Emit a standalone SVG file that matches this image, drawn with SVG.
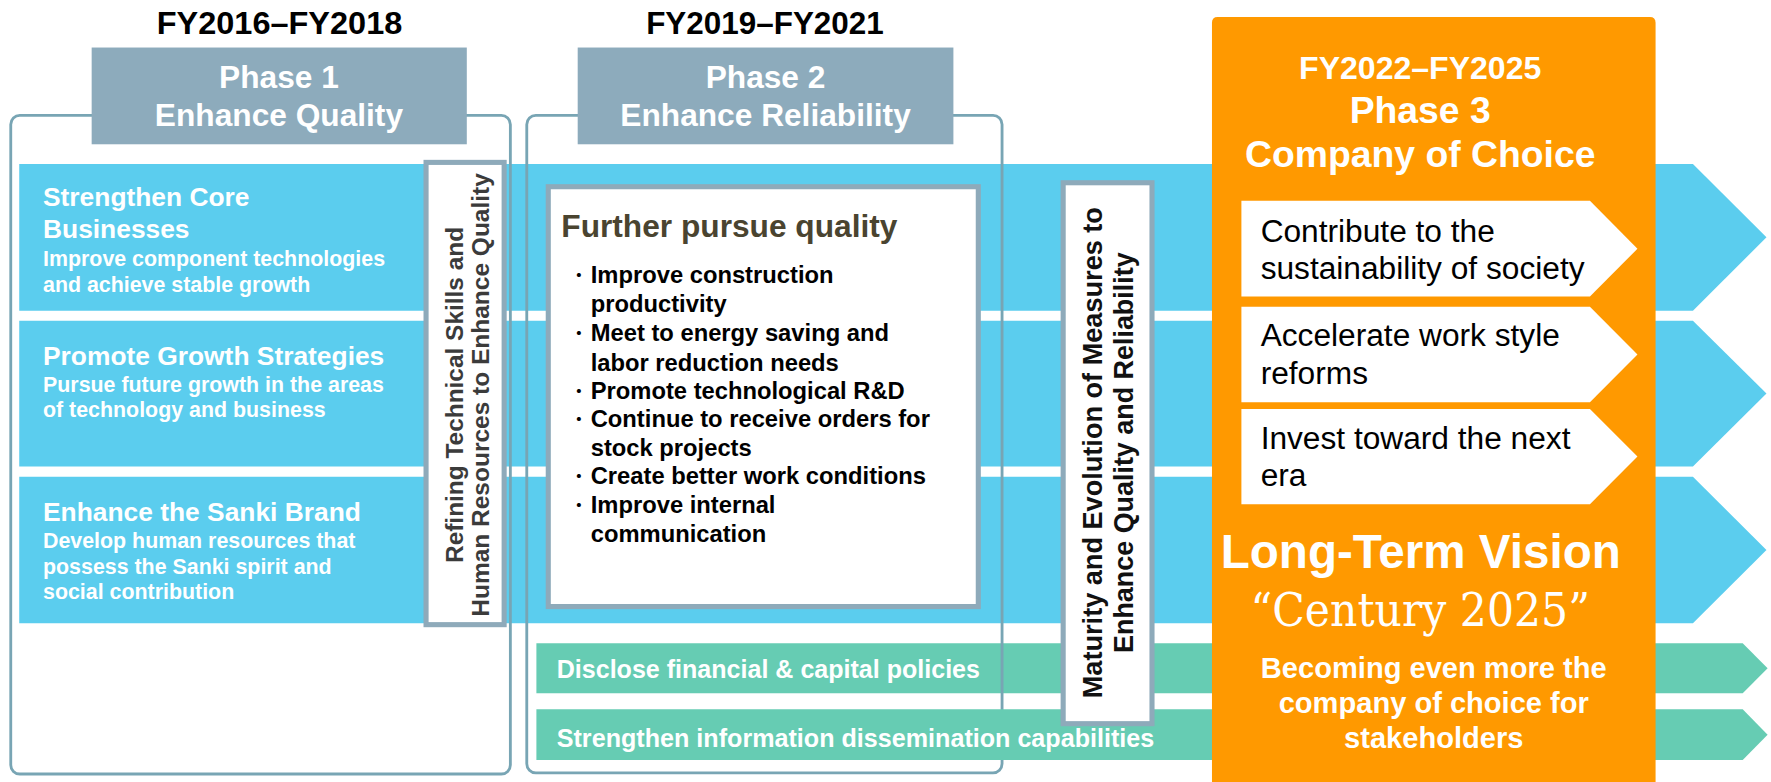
<svg xmlns="http://www.w3.org/2000/svg" width="1771" height="782" viewBox="0 0 1771 782">
<defs>
<style>
text{font-family:'Liberation Sans',Arial,'Noto Sans CJK JP',sans-serif}
.b{font-weight:bold}
.w{fill:#fff}
.k{fill:#000}
.m{text-anchor:middle}
.band{fill:#5BCDEE}
.green{fill:#66CCB3}
.outline{fill:none;stroke:#78A5B4;stroke-width:2.5}
.hdr{fill:#8DABBC}
.frame{fill:#fff;stroke:#8EAABA;stroke-width:4.5}
.chev{fill:#fff}
.ttl{font-size:28px}
.hd{font-size:23.3px}
.sub{font-size:18.9px}
.bl{font-size:21px;fill:#000}
.dot{font-weight:normal;font-size:17px;font-family:'Noto Sans CJK JP',sans-serif}
.vt{font-size:21.5px;fill:#3B3B3B}
.mt{font-size:24px;fill:#111}
.gt{font-size:22px}
.ph3{font-size:33px}
.ct{font-size:28px;fill:#000}
.bc{font-size:25.7px}
</style>
</defs>
<rect width="1771" height="782" fill="#fff"/>
<g transform="scale(1.13163)">
  <g id="bands">
    <path class="band" d="M17,145 H1496 L1561,209.75 L1496,274.5 H17 Z"/>
    <path class="band" d="M17,283.4 H1496 L1561,347.8 L1496,412.2 H17 Z"/>
    <path class="band" d="M17,421.3 H1496 L1561,486 L1496,550.8 H17 Z"/>
    <path class="green" d="M474,568.5 H1540 L1562,590.6 L1540,612.7 H474 Z"/>
  </g>
  <g id="phase-outlines">
    <rect class="outline" x="9.5" y="102" width="441.5" height="582" rx="8"/>
    <rect class="outline" x="465.5" y="102" width="420" height="581" rx="8"/>
  </g>
  <g id="band-green-2">
    <path class="green" d="M474,626.8 H1540 L1562,649.2 L1540,671.6 H474 Z"/>
  </g>
  <g id="titles">
    <text class="b k ttl m" x="247" y="30" textLength="217" lengthAdjust="spacingAndGlyphs">FY2016–FY2018</text>
    <text class="b k ttl m" x="676" y="30" textLength="210" lengthAdjust="spacingAndGlyphs">FY2019–FY2021</text>
  </g>
  <g id="phase1-header">
    <rect class="hdr" x="81" y="42" width="331.5" height="85.5"/>
    <text class="b w ttl m" x="246.5" y="77.5">Phase 1</text>
    <text class="b w ttl m" x="246.5" y="111">Enhance Quality</text>
  </g>
  <g id="phase2-header">
    <rect class="hdr" x="510.5" y="42" width="332" height="85.5"/>
    <text class="b w ttl m" x="676.5" y="77.5">Phase 2</text>
    <text class="b w ttl m" x="676.5" y="111">Enhance Reliability</text>
  </g>
  <g id="core-businesses">
    <text class="b w hd" x="38" y="182">Strengthen Core</text>
    <text class="b w hd" x="38" y="210.6">Businesses</text>
    <text class="b w sub" x="38" y="234.8">Improve component technologies</text>
    <text class="b w sub" x="38" y="257.8">and achieve stable growth</text>
  </g>
  <g id="growth-strategies">
    <text class="b w hd" x="38" y="322.5">Promote Growth Strategies</text>
    <text class="b w sub" x="38" y="346.1">Pursue future growth in the areas</text>
    <text class="b w sub" x="38" y="368.8">of technology and business</text>
  </g>
  <g id="sanki-brand">
    <text class="b w hd" x="38" y="460.1">Enhance the Sanki Brand</text>
    <text class="b w sub" x="38" y="484.6">Develop human resources that</text>
    <text class="b w sub" x="38" y="507.2">possess the Sanki spirit and</text>
    <text class="b w sub" x="38" y="529.3">social contribution</text>
  </g>
  <g id="refining">
    <rect class="frame" x="376.5" y="143.5" width="69" height="408.5"/>
    <text class="b vt m" transform="translate(409,349) rotate(-90)" textLength="297" lengthAdjust="spacingAndGlyphs">Refining Technical Skills and</text>
    <text class="b vt m" transform="translate(432,349) rotate(-90)" textLength="392" lengthAdjust="spacingAndGlyphs">Human Resources to Enhance Quality</text>
  </g>
  <g id="further-pursue-quality">
    <rect class="frame" x="484.5" y="165" width="380" height="371"/>
    <text class="b" x="496" y="209.5" font-size="28" fill="#4A4430">Further pursue quality</text>
    <text class="b bl" y="250.4"><tspan class="dot" x="503">・</tspan><tspan x="522">Improve construction</tspan></text>
    <text class="b bl" x="522" y="276">productivity</text>
    <text class="b bl" y="301.7"><tspan class="dot" x="503">・</tspan><tspan x="522">Meet to energy saving and</tspan></text>
    <text class="b bl" x="522" y="327.5">labor reduction needs</text>
    <text class="b bl" y="352.4"><tspan class="dot" x="503">・</tspan><tspan x="522">Promote technological R&amp;D</tspan></text>
    <text class="b bl" y="377.3"><tspan class="dot" x="503">・</tspan><tspan x="522">Continue to receive orders for</tspan></text>
    <text class="b bl" x="522" y="402.8">stock projects</text>
    <text class="b bl" y="427.7"><tspan class="dot" x="503">・</tspan><tspan x="522">Create better work conditions</tspan></text>
    <text class="b bl" y="453.5"><tspan class="dot" x="503">・</tspan><tspan x="522">Improve internal</tspan></text>
    <text class="b bl" x="522" y="479.3">communication</text>
  </g>
  <g id="financial-policies">
    <text class="b w gt" x="492" y="599.4" textLength="374" lengthAdjust="spacingAndGlyphs">Disclose financial &amp; capital policies</text>
  </g>
  <g id="information-dissemination">
    <text class="b w gt" x="492" y="659.8" textLength="528" lengthAdjust="spacingAndGlyphs">Strengthen information dissemination capabilities</text>
  </g>
  <g id="maturity">
    <rect class="frame" x="939.5" y="161.5" width="78.5" height="478"/>
    <text class="b mt m" transform="translate(974,400) rotate(-90)" textLength="434" lengthAdjust="spacingAndGlyphs">Maturity and Evolution of Measures to</text>
    <text class="b mt m" transform="translate(1001.5,400) rotate(-90)" textLength="354" lengthAdjust="spacingAndGlyphs">Enhance Quality and Reliability</text>
  </g>
  <g id="phase3">
    <path fill="#FF9900" d="M1071,700 V20 Q1071,15 1076,15 H1458 Q1463,15 1463,20 V700 Z"/>
    <text class="b w ttl m" x="1255" y="70" textLength="214" lengthAdjust="spacingAndGlyphs">FY2022–FY2025</text>
    <text class="b w ph3 m" x="1255" y="108.4">Phase 3</text>
    <text class="b w ph3 m" x="1255" y="147.3">Company of Choice</text>
  </g>
  <g id="sustainability">
    <path class="chev" d="M1097,177.5 H1405 L1447,219.8 L1405,262 H1097 Z"/>
    <text class="ct" x="1114" y="213.6">Contribute to the</text>
    <text class="ct" x="1114" y="246.8">sustainability of society</text>
  </g>
  <g id="work-style">
    <path class="chev" d="M1097,271 H1405 L1447,313.3 L1405,355.5 H1097 Z"/>
    <text class="ct" x="1114" y="305.8">Accelerate work style</text>
    <text class="ct" x="1114" y="339.3">reforms</text>
  </g>
  <g id="next-era">
    <path class="chev" d="M1097,361.5 H1405 L1447,403.5 L1405,445.6 H1097 Z"/>
    <text class="ct" x="1114" y="397">Invest toward the next</text>
    <text class="ct" x="1114" y="429.5">era</text>
  </g>
  <g id="long-term-vision">
    <text class="b w m" x="1255.5" y="501.7" font-size="42" textLength="353.5" lengthAdjust="spacingAndGlyphs">Long-Term Vision</text>
    <text class="w m" x="1255" y="553.2" font-size="42" style="font-family:'DejaVu Serif','Liberation Serif',serif" textLength="300" lengthAdjust="spacingAndGlyphs">“Century 2025”</text>
    <text class="b w bc m" x="1267" y="599.4">Becoming even more the</text>
    <text class="b w bc m" x="1267" y="630.4">company of choice for</text>
    <text class="b w bc m" x="1267" y="661.3">stakeholders</text>
  </g>
</g>
</svg>
